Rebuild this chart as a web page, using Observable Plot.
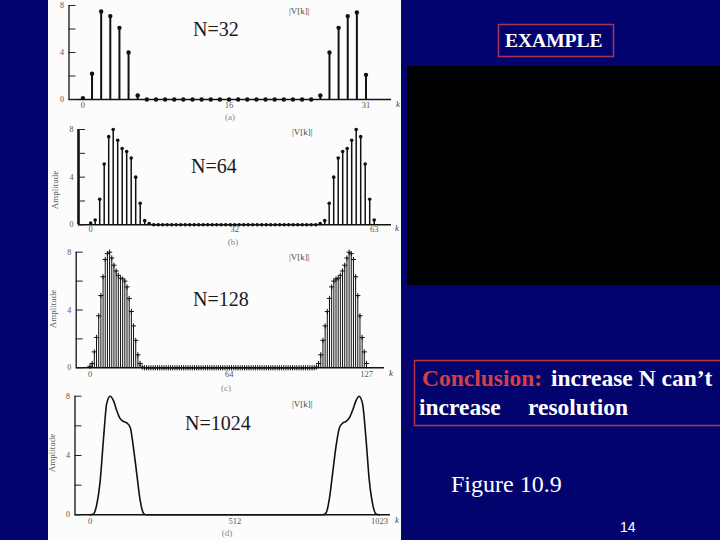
<!DOCTYPE html>
<html>
<head>
<meta charset="utf-8">
<script src="https://cdn.jsdelivr.net/npm/d3@7"></script>
<script src="https://cdn.jsdelivr.net/npm/@observablehq/plot@0.6"></script>
<style>
  html, body { margin:0; padding:0; }
  body { width:720px; height:540px; position:relative; overflow:hidden; background:#03036e; }
  #paper { position:absolute; left:48px; top:0; width:353px; height:540px; background:#fcfcfc; }
  .panel { position:absolute; left:0; }
  #blackbox { position:absolute; left:407px; top:66px; width:313px; height:219px; background:#000; }
  #overlay { position:absolute; left:0; top:0; }
</style>
</head>
<body>
<div id="paper"></div>
<div id="blackbox"></div>
<svg id="overlay" width="720" height="540"></svg>
<script>
// ---------------- data ----------------
const yTickMarks = [0, 2, 4, 6, 8];
const yTickLabels = [0, 4, 8];

const ticks32 = [0, 16, 31];
const mag32 = [0.12, 2.2, 7.5, 7.1, 6.1, 4.0, 0.35,
  0, 0, 0, 0, 0, 0, 0, 0, 0, 0, 0, 0, 0, 0, 0, 0, 0, 0, 0,
  0.35, 4.0, 6.1, 7.1, 7.4, 2.1];

const ticks64 = [0, 32, 63];
const mag64 = [0.15, 0.4, 2.15, 5.1, 7.4, 8.0, 7.1, 6.4, 6.15, 5.6, 4.0, 1.8, 0.35, 0.1,
  0, 0, 0, 0, 0, 0, 0, 0, 0, 0, 0, 0, 0, 0, 0, 0, 0, 0, 0, 0, 0, 0, 0, 0, 0, 0, 0, 0, 0, 0, 0, 0, 0, 0, 0, 0, 0,
  0.1, 0.35, 1.8, 4.0, 5.6, 6.15, 6.4, 7.1, 8.0, 7.4, 5.1, 2.15, 0.4];

const ticks128 = [0, 64, 127];
const mag128 = [0.1, 0.3, 1.1, 2.1, 3.6, 5.0, 6.3, 7.5, 7.9, 8.0, 7.6, 7.1, 6.7, 6.4, 6.2, 6.15, 6.0, 5.6, 4.8, 3.9, 2.9, 1.9, 0.9, 0.3, 0.05,
  0, 0, 0, 0, 0, 0, 0, 0, 0, 0, 0, 0, 0, 0, 0, 0, 0, 0, 0, 0,
  0, 0, 0, 0, 0, 0, 0, 0, 0, 0, 0, 0, 0, 0, 0, 0, 0, 0, 0, 0,
  0, 0, 0, 0, 0, 0, 0, 0, 0, 0, 0, 0, 0, 0, 0, 0, 0, 0, 0, 0,
  0, 0, 0, 0, 0, 0, 0, 0, 0, 0, 0, 0, 0, 0, 0, 0, 0, 0, 0,
  0.05, 0.3, 0.9, 1.9, 2.9, 3.9, 4.8, 5.6, 6.0, 6.15, 6.2, 6.4, 6.7, 7.1, 7.6, 8.0, 7.9, 7.5, 6.3, 5.0, 3.6, 2.1, 1.1, 0.3];

const ticks1024 = [0, 512, 1023];
const curveK = [0, 12, 24, 36, 48, 59, 71, 83, 95, 106, 118, 130, 142, 153, 165, 177, 189, 197,
  823, 835, 846, 858, 870, 882, 894, 905, 917, 929, 940, 951, 963, 975, 987, 999, 1011, 1023];
const curveV = [0, 0.05, 0.7, 2.3, 5.2, 7.5, 8.0, 7.7, 7.0, 6.5, 6.3, 6.2, 5.9, 4.6, 2.8, 1.0, 0.1, 0,
  0, 0.15, 1.1, 2.9, 4.7, 5.9, 6.2, 6.3, 6.55, 7.1, 7.7, 8.0, 7.5, 5.2, 2.3, 0.7, 0.05, 0];

// ---------------- helpers ----------------
const W = 353;
function scaleFromPixels(pA, vA, pB, vB, r0, r1) {
  const s = (pB - pA) / (vB - vA);
  return {domain: [vA + (r0 - pA) / s, vA + (r1 - pA) / s], s};
}

function panel(cfg) {
  const {top, height, axisPx, endPx, a, b, yTopPx, yBasePx, xTicks, xPad, axisW} = cfg;
  const {domain, s} = scaleFromPixels(a[1], a[0], b[1], b[0], axisPx, endPx);
  const marks = [
    Plot.ruleY([0], {stroke: "#111", strokeWidth: 1.4}),
    Plot.ruleX([domain[0]], {y1: 0, y2: 8, stroke: "#111", strokeWidth: axisW}),
    Plot.ruleY(yTickMarks, {x1: domain[0], x2: domain[0] + 7 / s, stroke: "#222", strokeWidth: 1}),
    Plot.axisY({ticks: yTickLabels, tickSize: 0, tickPadding: 5, label: null, fontSize: 8, fill: "#555", tickFormat: d => String(d)}),
    Plot.axisX({ticks: xTicks, tickSize: 0, tickPadding: xPad, label: null, fontSize: 8.5, fill: "#555", tickFormat: d => String(d)}),
    ...cfg.marks
  ];
  const svg = Plot.plot({
    width: W, height,
    marginLeft: axisPx, marginRight: W - endPx,
    marginTop: yTopPx, marginBottom: height - yBasePx,
    x: {domain},
    y: {domain: [0, 8]},
    style: {background: "transparent", color: "#555", fontFamily: "'Liberation Serif', serif", overflow: "visible"},
    marks
  });
  svg.classList.add("panel");
  svg.style.top = top + "px";
  svg.style.position = "absolute";
  document.getElementById("paper").appendChild(svg);
}

const rows = (vals) => vals.map((v, k) => ({k, v}));
const d32 = rows(mag32), d64 = rows(mag64), d128 = rows(mag128);
const d1024 = curveK.map((k, i) => ({k, v: curveV[i]}));

panel({top: 0, height: 122, axisPx: 20.5, endPx: 343, a: [0, 34.4], b: [31, 317.5],
  yTopPx: 5, yBasePx: 99, xTicks: ticks32, xPad: 2.5, axisW: 1.3,
  marks: [
    Plot.ruleX(d32, {x: "k", y1: 0, y2: "v", stroke: "#111", strokeWidth: 2}),
    Plot.dot(d32, {x: "k", y: "v", r: 2.2, fill: "#111"})
  ]});

panel({top: 120, height: 126, axisPx: 30, endPx: 343, a: [0, 42.2], b: [63, 325.7],
  yTopPx: 9, yBasePx: 104.3, xTicks: ticks64, xPad: 1.5, axisW: 2.6,
  marks: [
    Plot.ruleX(d64, {x: "k", y1: 0, y2: "v", stroke: "#111", strokeWidth: 1.5}),
    Plot.dot(d64, {x: "k", y: "v", r: 1.8, fill: "#111"})
  ]});

panel({top: 245, height: 136, axisPx: 27.7, endPx: 336, a: [0, 41.5], b: [127, 318],
  yTopPx: 6.7, yBasePx: 122.3, xTicks: ticks128, xPad: 3, axisW: 1.3,
  marks: [
    Plot.ruleX(d128, {x: "k", y1: 0, y2: "v", stroke: "#111", strokeWidth: 1}),
    Plot.dot(d128, {x: "k", y: "v", symbol: "plus", r: 1.8, stroke: "#111", strokeWidth: 1})
  ]});

panel({top: 385, height: 155, axisPx: 26.5, endPx: 342, a: [0, 41.5], b: [1023, 331],
  yTopPx: 10.7, yBasePx: 129.3, xTicks: ticks1024, xPad: 3, axisW: 1.3,
  marks: [
    Plot.line(d1024, {x: "k", y: "v", curve: "monotone-x", stroke: "#111", strokeWidth: 1.6})
  ]});

// ---------------- slide annotations ----------------
const ov = d3.select("#overlay");
const serif = "'Liberation Serif', 'Times New Roman', serif";
function txt(x, y, s, o = {}) {
  const t = ov.append("text").attr("x", x).attr("y", y).text(s)
    .attr("font-family", o.family || serif).attr("font-size", o.size || 10)
    .attr("fill", o.fill || "#222").style("white-space", "pre");
  if (o.weight) t.attr("font-weight", o.weight);
  if (o.style) t.attr("font-style", o.style);
  if (o.anchor) t.attr("text-anchor", o.anchor);
  if (o.rotate) t.attr("transform", `rotate(${o.rotate},${x},${y})`);
  return t;
}

// panel titles
txt(193, 36, "N=32", {size: 20, fill: "#1a1a1a"});
txt(191, 173, "N=64", {size: 20, fill: "#1a1a1a"});
txt(193, 306, "N=128", {size: 20, fill: "#1a1a1a"});
txt(185, 430, "N=1024", {size: 20, fill: "#1a1a1a"});

// |V[k]| labels
[[289, 14], [292, 135], [289, 260], [292, 407]].forEach(([x, y]) =>
  txt(x, y, "|V[k]|", {size: 9, fill: "#444"}));

// k axis labels
[[396, 107], [395, 231], [389, 376], [395, 523]].forEach(([x, y]) =>
  txt(x, y, "k", {size: 9, fill: "#444", style: "italic"}));

// sub-figure letters
[[230, 120, "(a)"], [233, 245, "(b)"], [226, 391, "(c)"], [227, 536, "(d)"]].forEach(([x, y, s]) =>
  txt(x, y, s, {size: 9, fill: "#888", anchor: "middle"}));

// Amplitude labels
[[58, 190], [56, 309], [55, 453]].forEach(([x, y]) =>
  txt(x, y, "Amplitude", {size: 9, fill: "#555", anchor: "middle", rotate: -90}));

// EXAMPLE box
ov.append("rect").attr("x", 498.5).attr("y", 24.5).attr("width", 115).attr("height", 32)
  .attr("fill", "none").attr("stroke", "#a8355e").attr("stroke-width", 1.5);
txt(505, 47, "EXAMPLE", {size: 19.5, weight: "bold", fill: "#ffffff"});

// Conclusion box
ov.append("rect").attr("x", 414.5).attr("y", 360.5).attr("width", 320).attr("height", 65)
  .attr("fill", "none").attr("stroke", "#b83545").attr("stroke-width", 1.5);
const l1 = ov.append("text").attr("y", 386).attr("font-family", serif).attr("font-size", 23.5).attr("font-weight", "bold");
l1.append("tspan").attr("x", 422).attr("fill", "#d5403f").text("Conclusion:");
l1.append("tspan").attr("x", 551).attr("fill", "#ffffff").text("increase N can\u2019t");
const l2 = ov.append("text").attr("y", 415).attr("font-family", serif).attr("font-size", 23.5).attr("font-weight", "bold").attr("fill", "#ffffff");
l2.append("tspan").attr("x", 419).text("increase");
l2.append("tspan").attr("x", 528).text("resolution");

txt(451, 492, "Figure 10.9", {size: 24, fill: "#ffffff"});
txt(620, 532, "14", {size: 14, fill: "#ffffff", family: "'Liberation Sans', Arial, sans-serif"});
</script>
</body>
</html>
